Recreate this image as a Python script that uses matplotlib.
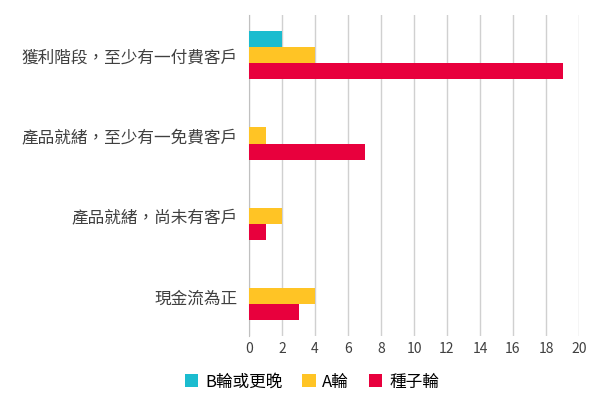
import matplotlib
matplotlib.use("Agg")
import matplotlib.pyplot as plt
import numpy as np

plt.rcParams['font.family'] = ['Noto Sans CJK TC', 'DejaVu Sans']

categories = ["獲利階段，至少有一付費客戶", "產品就緒，至少有一免費客戶", "產品就緒，尚未有客戶", "現金流為正"]
series_names = ["B輪或更晚", "A輪", "種子輪"]
b_vals = [2, 0, 0, 0]
a_vals = [4, 1, 2, 4]
seed_vals = [19, 7, 1, 3]
colors = ["#1BBCCF", "#FFC425", "#E8003D"]

fig = plt.figure(figsize=(6, 4.06), dpi=100)
ax = fig.add_axes([0.415, 0.17, 0.55, 0.79])
y = np.arange(len(categories))
h = 0.2
for i, (vals, c, n) in enumerate(zip([b_vals, a_vals, seed_vals], colors, series_names)):
    ax.barh(y + (i - 1) * h, vals, height=h, color=c, label=n, zorder=3)
ax.set_yticks(y)
ax.set_yticklabels(categories, fontsize=12, color="#404040")
ax.set_ylim(3.5, -0.5)
ax.set_xlim(0, 20)
ax.set_xticks(range(0, 21, 2))
ax.tick_params(axis='x', labelsize=10, colors="#404040", length=0)
ax.tick_params(axis='y', length=0, pad=8)
ax.grid(axis='x', color="#D0D0D0", linewidth=1, zorder=0)
for s in ["top", "right", "bottom"]:
    ax.spines[s].set_visible(False)
ax.spines["left"].set_color("#C0C0C0")
fig.legend(loc="lower center", bbox_to_anchor=(0.52, 0.0), ncol=3, frameon=False,
           fontsize=12, handlelength=0.8, handleheight=0.8, columnspacing=1.2, handletextpad=0.4)
fig.savefig("out.png", dpi=100)
